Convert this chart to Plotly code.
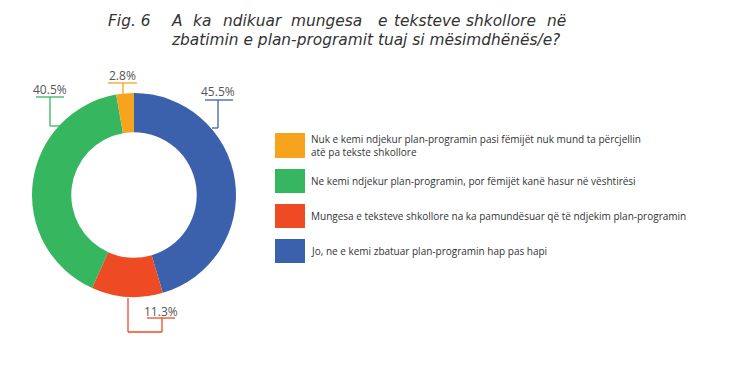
import plotly.graph_objects as go

W, H = 749, 367

categories = [
    "Jo, ne e kemi zbatuar plan-programin hap pas hapi",
    "Mungesa e teksteve shkollore na ka pamundësuar që të ndjekim plan-programin",
    "Ne kemi ndjekur plan-programin, por fëmijët kanë hasur në vështirësi",
    "Nuk e kemi ndjekur plan-programin pasi fëmijët nuk mund ta përcjellin<br>atë pa tekste shkollore",
]
values = [45.5, 11.3, 40.5, 2.8]
labels_txt = ["45.5%", "11.3%", "40.5%", "2.8%"]
colors = ["#3B61AD", "#EE4B24", "#37B660", "#F6A31D"]
title_fig = "Fig. 6"
title_line1 = ["A", "ka", "ndikuar", "mungesa", "e", "teksteve", "shkollore", "në"]
title_line2 = "zbatimin e plan-programit tuaj si mësimdhënës/e?"

def px(x):
    return x / W

def py(y):
    return 1 - y / H

cx, cy, R = 134, 195, 102

fig = go.Figure()
fig.add_trace(go.Pie(
    labels=categories, values=values, sort=False, direction="clockwise",
    rotation=0, hole=0.615, textinfo="none", hoverinfo="label+percent",
    marker=dict(colors=colors, line=dict(width=0)),
    domain=dict(x=[px(cx - R), px(cx + R)], y=[py(cy + R), py(cy - R)]),
    showlegend=False,
))

shapes = []
annotations = []

callouts = [
    dict(tx=218, ty=92, ul=(205, 233, 100), path=[(218, 100), (218, 128), (212, 128)]),
    dict(tx=161, ty=311, ul=(147, 175, 318), path=[(162, 318), (162, 332), (128, 332), (128, 298)]),
    dict(tx=50, ty=89, ul=(36, 64, 97), path=[(50, 97), (50, 126), (60, 126)]),
    dict(tx=122, ty=75, ul=(108, 137, 83), path=[(123, 83), (123, 95)]),
]
for i, c in enumerate(callouts):
    x0, x1, yy = c["ul"]
    shapes.append(dict(type="line", xref="paper", yref="paper",
                       x0=px(x0), x1=px(x1), y0=py(yy), y1=py(yy),
                       line=dict(color=colors[i], width=1.3)))
    pts = c["path"]
    for a, b in zip(pts[:-1], pts[1:]):
        shapes.append(dict(type="line", xref="paper", yref="paper",
                           x0=px(a[0]), x1=px(b[0]), y0=py(a[1]), y1=py(b[1]),
                           line=dict(color=colors[i], width=1.3)))
    annotations.append(dict(x=px(c["tx"]), y=py(c["ty"]), xref="paper", yref="paper",
                            text=labels_txt[i], showarrow=False, xanchor="center", yanchor="middle",
                            font=dict(family="Open Sans", size=12, color="#555555")))

leg_rows = [(3, 133, 158), (2, 169, 193), (1, 204, 228), (0, 239, 263)]
for idx, y0, y1 in leg_rows:
    shapes.append(dict(type="rect", xref="paper", yref="paper",
                       x0=px(275), x1=px(305), y0=py(y1), y1=py(y0),
                       fillcolor=colors[idx], line=dict(width=0)))
    annotations.append(dict(x=px(309), y=py((y0 + y1) / 2), xref="paper", yref="paper",
                            text=categories[idx], showarrow=False, xanchor="left", yanchor="middle",
                            align="left",
                            font=dict(family="Open Sans", size=10, color="#333333")))

tfont = dict(family="DejaVu Sans", size=15.4, color="#333333")
annotations.append(dict(x=px(106), y=py(21), xref="paper", yref="paper", text="<i>" + title_fig + "</i>",
                        showarrow=False, xanchor="left", yanchor="middle", font=tfont))
word_x = [169, 191, 221, 289, 376, 392, 464, 545]
for wx, w in zip(word_x, title_line1):
    annotations.append(dict(x=px(wx), y=py(21), xref="paper", yref="paper",
                            text="<i>" + w + "</i>", showarrow=False, xanchor="left", yanchor="middle",
                            font=tfont))
annotations.append(dict(x=px(169), y=py(40), xref="paper", yref="paper",
                        text="<i>" + title_line2 + "</i>",
                        showarrow=False, xanchor="left", yanchor="middle", font=tfont))

fig.update_layout(width=W, height=H, margin=dict(l=0, r=0, t=0, b=0),
                  paper_bgcolor="white", plot_bgcolor="white",
                  shapes=shapes, annotations=annotations)
fig.write_html("out.html", config={"displayModeBar": False},
               post_script="document.body.style.margin='0';")
